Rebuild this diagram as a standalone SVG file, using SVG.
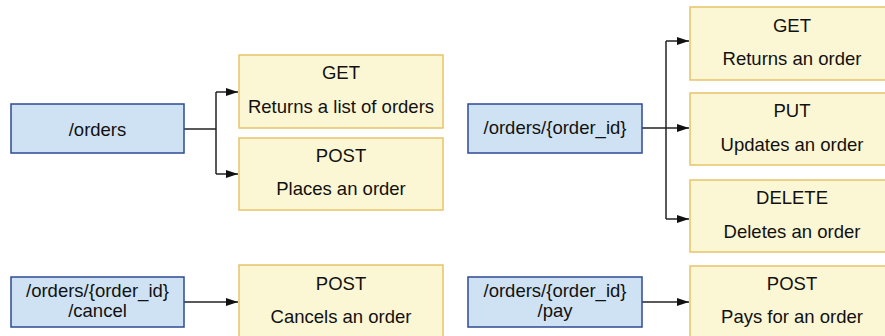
<svg xmlns="http://www.w3.org/2000/svg" width="885" height="336" viewBox="0 0 885 336">
<style>
.res{fill:#cfe2f3;stroke:#2e4a94;stroke-width:1.5}
.op{fill:#fbf6d3;stroke:#e6c46a;stroke-width:1.5}
text{font-family:"Liberation Sans",Arial,sans-serif;font-size:18.5px;fill:#111;text-anchor:middle}
.c{fill:none;stroke:#222;stroke-width:1.5}
</style>
<defs>
<marker id="ah" viewBox="0 0 12 8" refX="12" refY="4" markerWidth="12" markerHeight="8" markerUnits="userSpaceOnUse" orient="auto">
<path d="M0,0 L12,4 L0,8 z" fill="#111"/>
</marker>
</defs>
<rect width="885" height="336" fill="#fff"/>
<g id="connectors">
<path class="c" d="M184,129 H216"/>
<path class="c" d="M216,92 V174"/>
<path class="c" d="M216,92 H238" marker-end="url(#ah)"/>
<path class="c" d="M216,174 H238" marker-end="url(#ah)"/>
<path class="c" d="M642,128 H689" marker-end="url(#ah)"/>
<path class="c" d="M666,41 V219"/>
<path class="c" d="M666,41 H689" marker-end="url(#ah)"/>
<path class="c" d="M666,219 H689" marker-end="url(#ah)"/>
<path class="c" d="M184,302 H238" marker-end="url(#ah)"/>
<path class="c" d="M642,302 H689" marker-end="url(#ah)"/>
</g>
<g id="orders">
<rect class="res" x="11" y="104" width="173" height="49"/>
<text x="97.5" y="136">/orders</text>
</g>
<g id="orders-get">
<rect class="op" x="239" y="55" width="204" height="73"/>
<text x="341" y="79">GET</text>
<text x="341" y="113">Returns a list of orders</text>
</g>
<g id="orders-post">
<rect class="op" x="239" y="138" width="204" height="72"/>
<text x="341" y="162">POST</text>
<text x="341" y="195">Places an order</text>
</g>
<g id="order-id">
<rect class="res" x="468" y="104" width="174" height="49"/>
<text x="555" y="134">/orders/{order_id}</text>
</g>
<g id="order-get">
<rect class="op" x="690" y="7" width="204" height="73"/>
<text x="792" y="32">GET</text>
<text x="792" y="65">Returns an order</text>
</g>
<g id="order-put">
<rect class="op" x="690" y="93" width="204" height="72"/>
<text x="792" y="117">PUT</text>
<text x="792" y="151">Updates an order</text>
</g>
<g id="order-delete">
<rect class="op" x="690" y="180" width="204" height="72"/>
<text x="792" y="204">DELETE</text>
<text x="792" y="238">Deletes an order</text>
</g>
<g id="cancel">
<rect class="res" x="11" y="277" width="173" height="50"/>
<text x="97.5" y="297">/orders/{order_id}</text>
<text x="97.5" y="317">/cancel</text>
</g>
<g id="cancel-post">
<rect class="op" x="239" y="265" width="204" height="75"/>
<text x="341" y="290">POST</text>
<text x="341" y="323">Cancels an order</text>
</g>
<g id="pay">
<rect class="res" x="468" y="277" width="174" height="50"/>
<text x="555" y="297">/orders/{order_id}</text>
<text x="555" y="317">/pay</text>
</g>
<g id="pay-post">
<rect class="op" x="690" y="266" width="204" height="75"/>
<text x="792" y="290">POST</text>
<text x="792" y="323">Pays for an order</text>
</g>
</svg>
